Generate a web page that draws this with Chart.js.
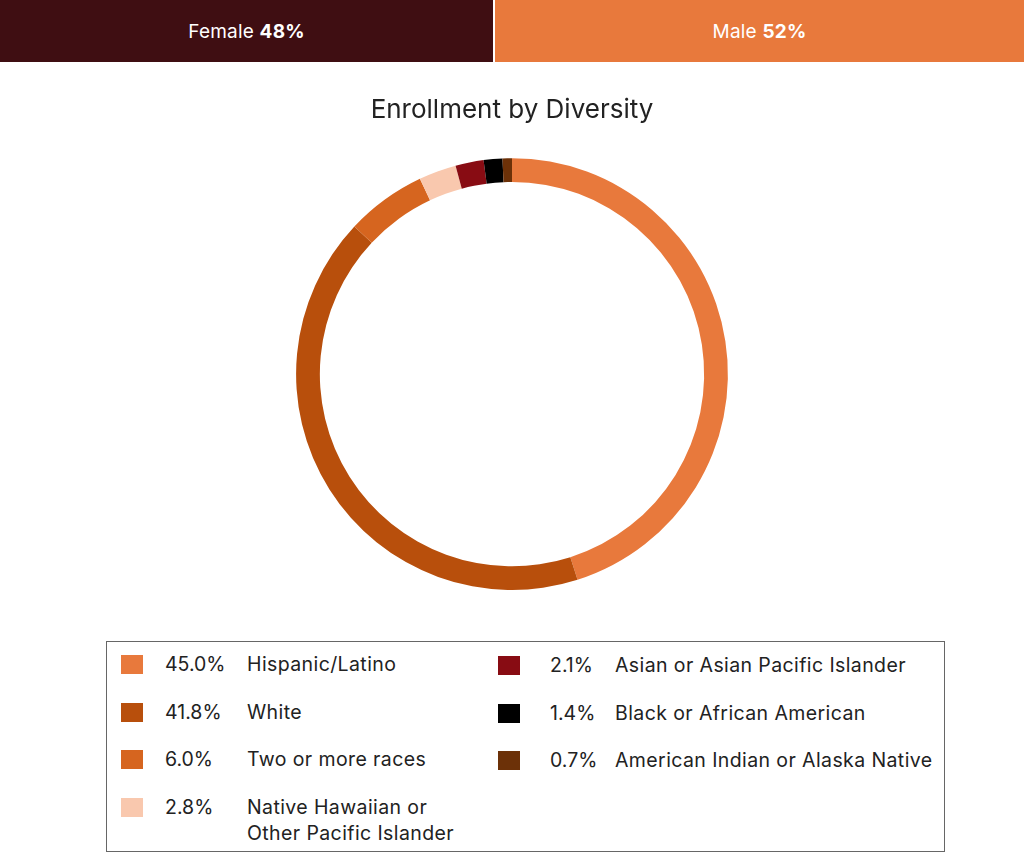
<!DOCTYPE html>
<html>
<head>
<meta charset="utf-8">
<script src="https://cdn.jsdelivr.net/npm/chart.js@4"></script>
<style>
  body { margin: 0; width: 1024px; height: 853px; background: #fff; font-family: "Inter", "Open Sans", sans-serif; color: #222; overflow: hidden; position: relative; }
  .gender { position: absolute; top: 0; left: 0; width: 1024px; height: 62px; display: flex; }
  .gender div { height: 62px; line-height: 64px; color: #fff; font-size: 19px; text-align: center; letter-spacing: 0.2px; }
  .gender b { font-weight: 700; }
  #chartBox { position: absolute; left: 0; top: 90px; width: 1024px; height: 500px; }
  .legend { position: absolute; left: 106px; top: 641px; width: 839px; height: 211px; border: 1px solid #666; box-sizing: border-box; }
  .item { position: absolute; font-size: 19.5px; line-height: 26px; color: #222; letter-spacing: 0.4px; }
  .item .sw { position: absolute; top: 4px; width: 22px; height: 19px; }
  .item .pct { position: absolute; top: 0; letter-spacing: 0; }
  .item .lab { position: absolute; top: 0; white-space: nowrap; }
</style>
</head>
<body>
<div class="gender" id="gender"></div>
<div id="chartBox"><canvas id="diversityChart"></canvas></div>
<div class="legend" id="legend"></div>
<script>
// gender split
var genderLabels = ['Female', 'Male'];
var genderValues = [48, 52];
var genderColors = ['#3F0E12', '#E8793C'];

// enrollment by diversity
var groups = ['Hispanic/Latino', 'White', 'Two or more races', 'Native Hawaiian or<br>Other Pacific Islander',
              'Asian or Asian Pacific Islander', 'Black or African American', 'American Indian or Alaska Native'];
var shares = [45.0, 41.8, 6.0, 2.8, 2.1, 1.4, 0.7];
var colors = ['#E8793C', '#B84F0C', '#D6651F', '#F9C8AE', '#880C13', '#000000', '#6C3108'];

var gender = document.getElementById('gender');
genderLabels.forEach(function(g, i) {
    var d = document.createElement('div');
    d.style.background = genderColors[i];
    d.style.width = (i === 0 ? 493 : 529) + 'px';
    if (i === 1) d.style.marginLeft = '2px';
    d.innerHTML = g + ' <b>' + genderValues[i] + '%</b>';
    gender.appendChild(d);
});

// legend, two columns
var legend = document.getElementById('legend');
var rowY = [9, 57, 104, 152, 10, 58, 105];
groups.forEach(function(g, i) {
    var left = i < 4;
    var it = document.createElement('div');
    it.className = 'item';
    it.style.left = (left ? 14 : 391) + 'px';
    it.style.top = rowY[i] + 'px';
    it.innerHTML = '<span class="sw" style="left:0;background:' + colors[i] + '"></span>' +
        '<span class="pct" style="left:' + (left ? 44 : 52) + 'px">' + shares[i].toFixed(1) + '%</span>' +
        '<span class="lab" style="left:' + (left ? 126 : 117) + 'px">' + g + '</span>';
    legend.appendChild(it);
});

new Chart(document.getElementById('diversityChart'), {
    type: 'doughnut',
    data: {
        labels: groups.map(function(g) { return g.replace('<br>', ' '); }),
        datasets: [{
            data: shares,
            backgroundColor: colors,
            borderWidth: 0,
            hoverOffset: 0
        }]
    },
    options: {
        responsive: true,
        maintainAspectRatio: false,
        animation: false,
        cutout: '89%',
        plugins: {
            legend: { display: false },
            tooltip: { enabled: false },
            title: {
                display: true,
                text: 'Enrollment by Diversity',
                color: '#222',
                font: { family: 'Inter', size: 26, weight: '400' },
                padding: { top: 5, bottom: 32 }
            }
        }
    }
});
</script>
</body>
</html>
